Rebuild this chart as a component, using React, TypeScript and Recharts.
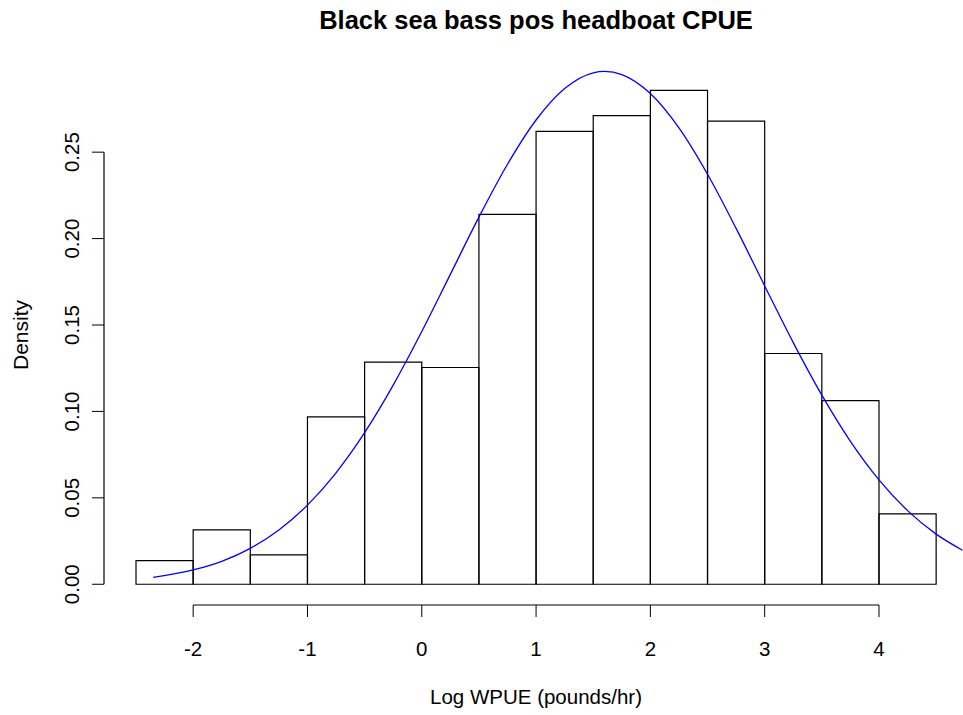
import React from 'react';
import { ComposedChart, Line, XAxis, YAxis, ReferenceArea, ReferenceLine } from 'recharts';

const TITLE = 'Black sea bass pos headboat CPUE';
const X_LABEL = 'Log WPUE (pounds/hr)';
const Y_LABEL = 'Density';

// histogram bins
const binEdges = [-2.5, -2, -1.5, -1, -0.5, 0, 0.5, 1, 1.5, 2, 2.5, 3, 3.5, 4, 4.5];
const binDensity = [0.0137, 0.0315, 0.017, 0.0969, 0.1285, 0.1254, 0.214, 0.262, 0.2711, 0.2857, 0.268, 0.1335, 0.1063, 0.0407];

// fitted density curve
const curveX = [-2.35, -2, -1.75, -1.5, -1.25, -1, -0.75, -0.5, -0.25, 0, 0.25, 0.5, 0.75, 1, 1.25, 1.5, 1.6, 1.75, 2, 2.25, 2.5, 2.75, 3, 3.25, 3.5, 3.75, 4, 4.25, 4.5, 4.73];
const curveDensity = [0.004, 0.0083, 0.0133, 0.0208, 0.0314, 0.0458, 0.0645, 0.0877, 0.1152, 0.1462, 0.1793, 0.2124, 0.243, 0.2686, 0.2868, 0.2959, 0.2967, 0.2949, 0.2839, 0.264, 0.2372, 0.2059, 0.1726, 0.1398, 0.1094, 0.0827, 0.0604, 0.0426, 0.029, 0.0197];

const xTicks = [-2, -1, 0, 1, 2, 3, 4];
const yTicks = [0, 0.05, 0.1, 0.15, 0.2, 0.25];

const xDomain: [number, number] = [-2.78, 4.735];
const yDomain: [number, number] = [-0.012, 0.312];

const FONT = '"Liberation Sans", Arial, Helvetica, sans-serif';
const AXIS_FS = 20.5;

const curveData = curveX.map((x, i) => ({ x, d: curveDensity[i] }));

const XTick = (props: any) => {
  const { x, y, payload } = props;
  return (
    <g>
      <line x1={x} y1={y} x2={x} y2={y + 12} stroke="#000" strokeWidth={1} />
      <text x={x} y={y + 50.5} textAnchor="middle" fontSize={AXIS_FS} fontFamily={FONT} fill="#000">
        {String(payload.value)}
      </text>
    </g>
  );
};

const YTick = (props: any) => {
  const { x, y, payload } = props;
  const tx = x - 24.7;
  return (
    <g>
      <line x1={x - 12} y1={y} x2={x} y2={y} stroke="#000" strokeWidth={1} />
      <text
        x={tx}
        y={y}
        transform={`rotate(-90, ${tx}, ${y})`}
        textAnchor="middle"
        fontSize={AXIS_FS}
        fontFamily={FONT}
        fill="#000"
      >
        {Number(payload.value).toFixed(2)}
      </text>
    </g>
  );
};

export default function App() {
  return (
    <div style={{ position: 'absolute', left: 0, top: 0, width: 963, height: 715, background: '#fff' }}>
      <ComposedChart
        width={963}
        height={715}
        data={curveData}
        margin={{ top: 45, right: 0, bottom: 0, left: 0 }}
      >
        <XAxis
          type="number"
          dataKey="x"
          domain={xDomain}
          allowDataOverflow
          ticks={xTicks}
          interval={0}
          axisLine={false}
          tickLine={false}
          tickSize={0}
          tickMargin={0}
          height={110}
          tick={<XTick />}
        />
        <YAxis
          type="number"
          domain={yDomain}
          allowDataOverflow
          ticks={yTicks}
          interval={0}
          axisLine={false}
          tickLine={false}
          tickSize={0}
          tickMargin={0}
          width={104}
          tick={<YTick />}
        />
        {binDensity.map((d, i) => (
          <ReferenceArea
            key={i}
            x1={binEdges[i]}
            x2={binEdges[i + 1]}
            y1={0}
            y2={d}
            fill="none"
            fillOpacity={0}
            stroke="#000"
            strokeWidth={1.2}
            strokeOpacity={1}
            ifOverflow="visible"
          />
        ))}
        <ReferenceLine
          segment={[{ x: xTicks[0], y: yDomain[0] }, { x: xTicks[xTicks.length - 1], y: yDomain[0] }]}
          stroke="#000"
          strokeWidth={1.2}
          ifOverflow="visible"
        />
        <ReferenceLine
          segment={[{ x: xDomain[0], y: yTicks[0] }, { x: xDomain[0], y: yTicks[yTicks.length - 1] }]}
          stroke="#000"
          strokeWidth={1.2}
          ifOverflow="visible"
        />
        <Line
          type="monotone"
          dataKey="d"
          stroke="#0000ff"
          strokeWidth={1.3}
          dot={false}
          activeDot={false}
          isAnimationActive={false}
        />
      </ComposedChart>
      <svg
        width={963}
        height={715}
        style={{ position: 'absolute', left: 0, top: 0, pointerEvents: 'none' }}
      >
        <text x={536} y={28.5} textAnchor="middle" fontSize={25.5} fontWeight="bold" fontFamily={FONT} fill="#000">
          {TITLE}
        </text>
        <text x={536} y={704} textAnchor="middle" fontSize={AXIS_FS} fontFamily={FONT} fill="#000">
          {X_LABEL}
        </text>
        <text
          x={27.5}
          y={335}
          transform="rotate(-90, 27.5, 335)"
          textAnchor="middle"
          fontSize={21}
          fontFamily={FONT}
          fill="#000"
        >
          {Y_LABEL}
        </text>
      </svg>
    </div>
  );
}
